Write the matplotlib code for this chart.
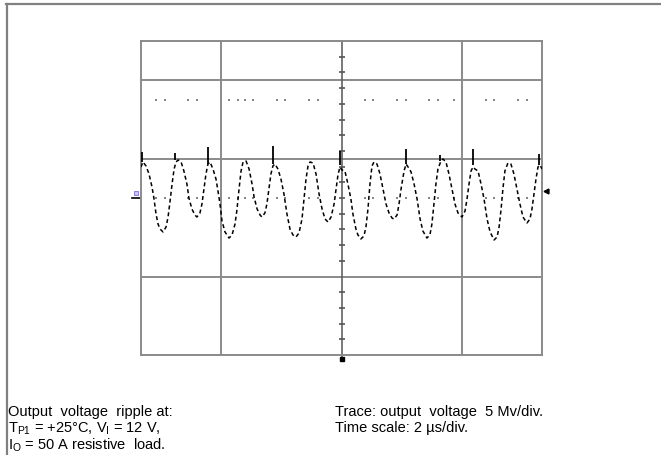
import matplotlib
matplotlib.use("Agg")
import matplotlib.pyplot as plt
from matplotlib.lines import Line2D

plt.rcParams["font.family"] = ["Liberation Sans", "DejaVu Sans"]
plt.rcParams["mathtext.fontset"] = "custom"
plt.rcParams["mathtext.rm"] = "Liberation Sans"
plt.rcParams["mathtext.it"] = "Liberation Sans"

# Ripple trace: time in microseconds, voltage in millivolts
time_us = [
    0.00, 0.10, 0.25, 0.40, 0.55, 0.65, 0.75, 0.85, 0.95, 1.10, 1.25, 1.35, 1.45, 1.55, 1.65, 1.75,
    1.85, 2.00, 2.14, 2.29, 2.39, 2.54, 2.69, 2.79, 2.94, 3.04, 3.14, 3.24, 3.34, 3.44, 3.59, 3.74,
    3.84, 3.94, 4.04, 4.19, 4.39, 4.54, 4.69, 4.79, 4.89, 4.99, 5.09, 5.24, 5.39, 5.54, 5.64, 5.79,
    5.94, 6.03, 6.18, 6.28, 6.38, 6.48, 6.58, 6.68, 6.83, 6.98, 7.13, 7.28, 7.43, 7.58, 7.73, 7.88,
    8.03, 8.13, 8.23, 8.33, 8.43, 8.58, 8.73, 8.88, 9.03, 9.18, 9.33, 9.48, 9.63, 9.73, 9.83, 9.93,
    10.02, 10.17, 10.32, 10.47, 10.57, 10.72, 10.82, 10.97, 11.12, 11.22, 11.32, 11.42, 11.52, 11.62,
    11.77, 11.92, 12.07, 12.22, 12.37, 12.52, 12.62, 12.77, 12.87, 12.97, 13.12, 13.22, 13.32, 13.47,
    13.62, 13.77, 13.92, 14.06, 14.26, 14.41, 14.51, 14.61, 14.71, 14.81, 14.96, 15.06, 15.21, 15.36,
    15.51, 15.66, 15.81, 16.01, 16.16, 16.26, 16.36, 16.46, 16.56, 16.66, 16.81, 16.96, 17.11, 17.26,
    17.41, 17.61, 17.76, 17.86, 17.96, 18.05, 18.15, 18.30, 18.45, 18.60, 18.75, 18.90, 19.05, 19.25,
    19.40, 19.50, 19.60, 19.70, 19.80, 19.90, 20.00,
]
ripple_mv = [
    3.95, 4.59, 4.08, 3.06, 1.40, -0.13, -2.04, -3.31, -3.95, -4.33, -3.69, -2.42, -0.38, 1.78, 3.69, 4.59,
    4.84, 4.59, 3.44, 1.78, 0.00, -1.40, -2.17, -2.42, -1.91, -0.76, 1.15, 3.06, 4.33, 4.59, 3.69, 2.42,
    0.89, -0.76, -2.93, -4.33, -5.10, -4.71, -3.31, -1.40, 1.15, 3.44, 4.59, 4.71, 3.69, 1.78, 0.13, -1.40,
    -2.17, -2.42, -1.91, -0.76, 1.15, 3.06, 4.08, 4.33, 3.69, 2.42, 0.51, -2.04, -3.95, -4.71, -4.97, -4.46,
    -2.68, -0.13, 2.42, 4.08, 4.59, 4.46, 3.06, 0.51, -1.40, -2.68, -3.06, -2.42, -0.76, 1.15, 3.06, 3.95,
    3.57, 3.44, 1.78, -0.13, -2.04, -3.95, -4.71, -5.22, -4.84, -3.69, -1.40, 1.78, 4.08, 4.59,
    4.33, 3.06, 1.15, -0.76, -1.91, -2.55, -2.68, -2.17, -0.76, 1.15, 3.44, 4.33, 3.95, 3.31,
    1.78, -0.13, -2.68, -4.20, -5.10, -4.71, -3.31, -0.76, 1.78, 3.69, 4.71, 4.97, 4.59, 3.06,
    1.15, -0.76, -1.91, -2.42, -1.66, -0.13, 1.78, 3.44, 3.95, 3.69, 3.44, 1.78, -0.13, -2.68,
    -4.33, -5.35, -4.97, -3.69, -1.40, 1.15, 3.44, 4.46, 4.33, 3.06, 1.15, -0.76, -2.42, -3.18,
    -2.68, -1.40, 0.51, 2.42, 3.95, 4.20, 3.69,
]

# Switching spikes riding on the ripple peaks
spike_time_us = [0.05, 1.70, 3.34, 6.58, 9.93, 13.22, 14.91, 16.56, 19.85]
spike_top_mv = [5.86, 5.73, 6.50, 6.62, 5.99, 6.24, 5.48, 6.24, 5.61]
spike_base_mv = [4.59, 4.84, 4.33, 4.33, 4.20, 4.33, 4.71, 4.20, 4.20]

# Faint sample dots of the idle channel
dot_time_us = [0.75, 1.20, 2.34, 2.79, 4.39, 4.84, 5.19, 5.59, 6.78, 7.18, 8.38, 8.83,
               11.17, 11.57, 12.77, 13.22, 14.36, 14.81, 15.61, 17.21, 17.61, 18.80, 19.25]
dot_levels_mv = [12.5, 0.0]

# Screen graticule (2 us/div, 5 mV/div)
grid_time_us = [4, 16]
grid_level_mv = [15, 5, -10]
center_time_us = 10
center_ticks_mv = [-18, -16, -14, -12, -8, -6, -4, -2, 0, 2, 4, 6, 8, 10, 12, 14, 16, 18]

fig = plt.figure(figsize=(6.61, 4.56), dpi=100)
ax = fig.add_axes([141 / 661, 1 - 356 / 456, 401 / 661, 314 / 456])
ax.set_xlim(0, 20)
ax.set_ylim(-20, 20)
ax.set_xticks([])
ax.set_yticks([])
grid_col = "#8a8a8a"
for s in ax.spines.values():
    s.set_color(grid_col)
    s.set_linewidth(1.4)
for t in grid_time_us:
    ax.axvline(t, color=grid_col, lw=1.4, zorder=1)
for v in grid_level_mv:
    ax.axhline(v, color=grid_col, lw=1.4, zorder=1)

# centre time axis with minor ticks
ax.plot([center_time_us, center_time_us], [20, -20.6], color="#555555", lw=1.1,
        clip_on=False, zorder=2)
ax.plot([center_time_us] * len(center_ticks_mv), center_ticks_mv, linestyle="none",
        marker="_", markersize=4, markeredgewidth=1.2, color="#555555", zorder=2)
ax.plot([center_time_us], [-20.5], marker="s", markersize=2.5, color="black",
        clip_on=False, zorder=3)

for lvl in dot_levels_mv:
    ax.plot(dot_time_us, [lvl] * len(dot_time_us), linestyle="none", marker="s",
            markersize=1.5, color="#858585", markeredgewidth=0, zorder=2)

ax.plot(time_us, ripple_mv, color="black", lw=1.1, linestyle=(0, (2.6, 1.9)), zorder=4)
ax.vlines(spike_time_us, spike_base_mv, spike_top_mv, color="black", lw=1.3, zorder=4)

# channel and trigger markers
ax.plot([-0.25], [0.6], marker="s", markersize=3.2, markerfacecolor="#c9c4f0",
        markeredgecolor="#7b6fd0", markeredgewidth=0.6, clip_on=False)
ax.plot([-0.45, -0.05], [-0.05, -0.05], color="black", lw=1.2, clip_on=False)
ax.plot([20.2], [0.9], marker="<", markersize=3.5, color="black", clip_on=False)

# outer frame
frame_col = "#808080"
fig.add_artist(Line2D([6.5 / 661, 6.5 / 661], [0, 1 - 5 / 456], color=frame_col, lw=1.6))
fig.add_artist(Line2D([6 / 661, 1], [1 - 5 / 456, 1 - 5 / 456], color=frame_col, lw=1.6))

fs = 10.5
fig.text(8 / 661, 1 - 416 / 456, "Output  voltage  ripple at:", fontsize=fs)
fig.text(8 / 661, 1 - 433 / 456,
         r"T$_{\mathrm{P1}}$ = +25°C, V$_{\mathrm{I}}$ = 12 V,", fontsize=fs)
fig.text(8 / 661, 1 - 450 / 456, r"I$_{\mathrm{O}}$ = 50 A resistive  load.", fontsize=fs)
fig.text(335 / 661, 1 - 416 / 456, "Trace: output  voltage  5 Mv/div.", fontsize=fs)
fig.text(335 / 661, 1 - 432 / 456, "Time scale: 2 µs/div.", fontsize=fs)

fig.savefig("out.png", dpi=100)
